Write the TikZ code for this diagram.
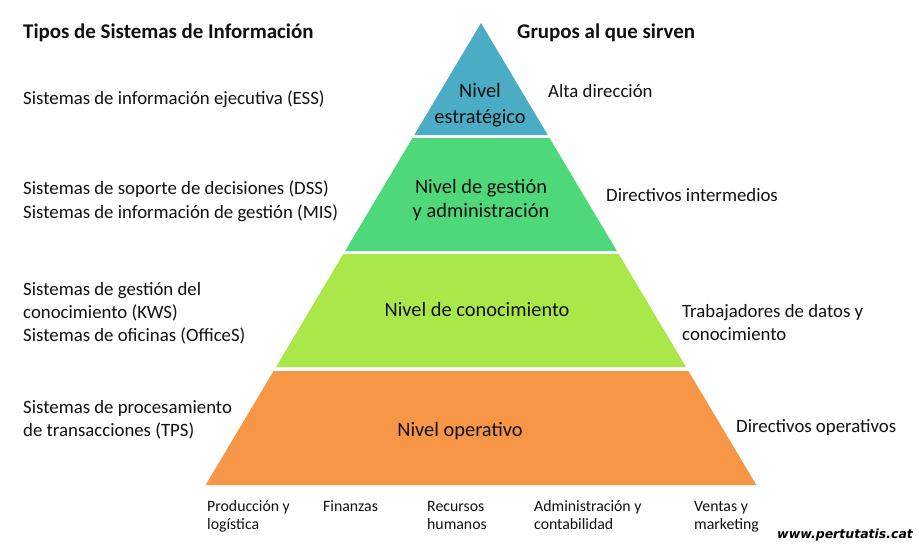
\documentclass[tikz,border=0pt]{standalone}
\usepackage{fontspec}
\setmainfont{Carlito}
\newfontfamily\wmfont{DejaVu Sans}
\definecolor{cBlue}{HTML}{4BACC6}
\definecolor{cGreen}{HTML}{4ED87A}
\definecolor{cLime}{HTML}{AAE84A}
\definecolor{cOrange}{HTML}{F79646}
\definecolor{cText}{HTML}{111111}
\tikzset{
  head/.style={anchor=base west, inner sep=0pt, text=cText, font=\fontsize{20.9}{24}\selectfont\bfseries},
  side/.style={anchor=base west, inner sep=0pt, text=cText, font=\fontsize{18.8}{23}\selectfont},
  lvl/.style={anchor=base, inner sep=0pt, text=cText, font=\fontsize{20.4}{25}\selectfont},
  dept/.style={anchor=base west, inner sep=0pt, text=cText, font=\fontsize{15.8}{18}\selectfont},
  layer/.style={draw=none}
}
\begin{document}
\begin{tikzpicture}[x=1pt,y=-1pt]
\path[use as bounding box, fill=white] (0,0) rectangle (919,546);
% pyramid layers
\fill[cBlue] (481,23) -- (547.75,135) -- (414.25,135) -- cycle;
\fill[cGreen] (412.46,138) -- (549.54,138) -- (616.89,251) -- (345.11,251) -- cycle;
\fill[cLime] (343.32,254) -- (618.68,254) -- (686.02,367) -- (275.98,367) -- cycle;
\fill[cOrange] (273.59,371) -- (688.41,371) -- (756.35,485) -- (205.65,485) -- cycle;
% level labels
\node[lvl] (l1a) at (480,97) {Nivel};
\node[lvl] (l1b) at (480,123) {estratégico};
\node[lvl] (l2a) at (481,193) {Nivel de gestión};
\node[lvl] (l2b) at (481,217) {y administración};
\node[lvl] (l3) at (477,316) {Nivel de conocimiento};
\node[lvl] (l4) at (460,436) {Nivel operativo};
% headings
\node[head] (h1) at (23,38) {Tipos de Sistemas de Información};
\node[head] (h2) at (517,38) {Grupos al que sirven};
% left side
\node[side] (s1) at (23,104) {Sistemas de información ejecutiva (ESS)};
\node[side] (s2) at (23,194) {Sistemas de soporte de decisiones (DSS)};
\node[side] (s3) at (23,218) {Sistemas de información de gestión (MIS)};
\node[side] (s4) at (23,295) {Sistemas de gestión del};
\node[side] (s5) at (23,318) {conocimiento (KWS)};
\node[side] (s6) at (23,341) {Sistemas de oficinas (OfficeS)};
\node[side] (s7) at (23,413) {Sistemas de procesamiento};
\node[side] (s8) at (23,436) {de transacciones (TPS)};
% right side
\node[side] (g1) at (548,97) {Alta dirección};
\node[side] (g2) at (606,201) {Directivos intermedios};
\node[side] (g3) at (682,317) {Trabajadores de datos y};
\node[side] (g4) at (682,340) {conocimiento};
\node[side] (g5) at (736,432) {Directivos operativos};
% departments
\node[dept] (d1a) at (207,511) {Producción y};
\node[dept] (d1b) at (207,529) {logística};
\node[dept] (d2) at (323,511) {Finanzas};
\node[dept] (d3a) at (427,511) {Recursos};
\node[dept] (d3b) at (427,529) {humanos};
\node[dept] (d4a) at (534,511) {Administración y};
\node[dept] (d4b) at (534,529) {contabilidad};
\node[dept] (d5a) at (694,511) {Ventas y};
\node[dept] (d5b) at (694,529) {marketing};
% watermark
\node[anchor=base west, inner sep=0pt, text=black, font=\wmfont\bfseries\itshape\fontsize{12.5}{14}\selectfont] (wm) at (777,538) {www.pertutatis.cat};
\end{tikzpicture}
\end{document}
